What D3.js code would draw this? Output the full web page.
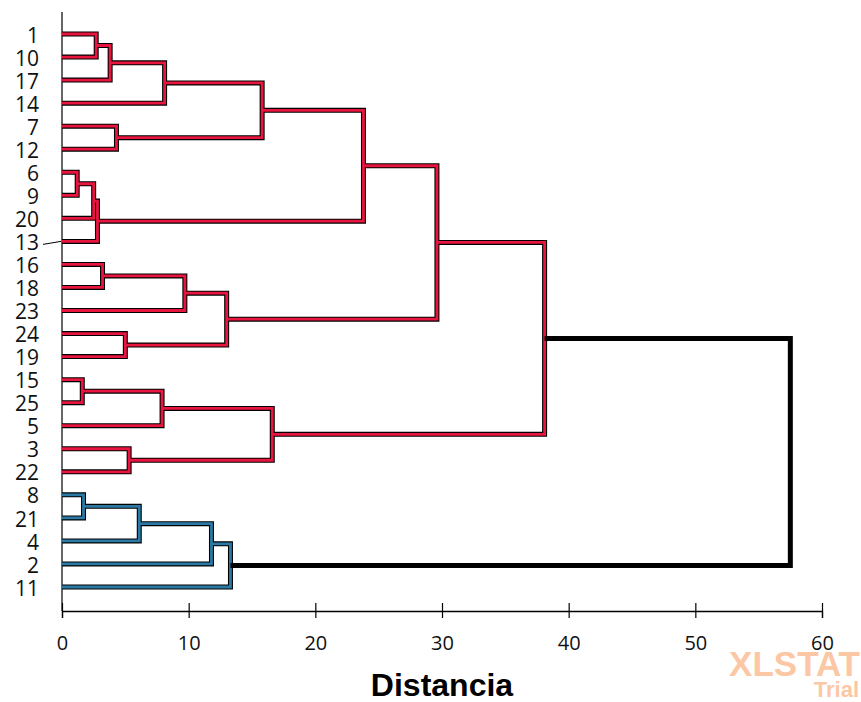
<!DOCTYPE html>
<html>
<head>
<meta charset="utf-8">
<script src="https://cdn.jsdelivr.net/npm/d3@7"></script>
<style>
  body { margin: 0; background: #fff; }
  svg text { font-family: "Open Sans", "DejaVu Sans", sans-serif; }
</style>
</head>
<body>
<svg id="chart" width="861" height="702"></svg>
<script>
// leaf order top to bottom
const leafOrder = ["1","10","17","14","7","12","6","9","20","13","16","18","23","24","19","15","25","5","3","22","8","21","4","2","11"];

// merges: [id, left child, right child, distance]
const merges = [
  ["m1", "1", "10", 2.7],
  ["m2", "m1", "17", 3.8],
  ["m3", "m2", "14", 8.1],
  ["m4", "7", "12", 4.3],
  ["m5", "m3", "m4", 15.8],
  ["m6", "6", "9", 1.2],
  ["m7", "m6", "20", 2.5],
  ["m8", "m7", "13", 2.8],
  ["m9", "m5", "m8", 23.8],
  ["m10", "16", "18", 3.2],
  ["m11", "m10", "23", 9.7],
  ["m12", "24", "19", 5.0],
  ["m13", "m11", "m12", 13.0],
  ["m14", "m9", "m13", 29.6],
  ["m15", "15", "25", 1.6],
  ["m16", "m15", "5", 7.9],
  ["m17", "3", "22", 5.3],
  ["m18", "m16", "m17", 16.6],
  ["m19", "m14", "m18", 38.1],
  ["m20", "8", "21", 1.7],
  ["m21", "m20", "4", 6.1],
  ["m22", "m21", "2", 11.8],
  ["m23", "m22", "11", 13.3],
  ["root", "m19", "m23", 57.5]
];

// cluster colours by top-level group
const groupRoots = ["m19", "m23"];
const groupColors = ["#e8153f", "#2b7aa5"];

const xTicks = [0, 10, 20, 30, 40, 50, 60];

const svg = d3.select("#chart");
const x = d3.scaleLinear().domain([0, 60]).range([62, 822]);
const y = d3.scalePoint().domain(leafOrder).range([34, 587]);

// node positions
const nodes = {};
leafOrder.forEach(l => { nodes[l] = {h: 0, y: y(l)}; });
merges.forEach(([id, a, b, h]) => {
  nodes[id] = {h: h, y: (nodes[a].y + nodes[b].y) / 2, a: a, b: b};
});

// colour assignment: walk down from each group root
const colorOf = {};
const paint = (id, c) => {
  colorOf[id] = c;
  if (nodes[id].a) { paint(nodes[id].a, c); paint(nodes[id].b, c); }
};
groupRoots.forEach((g, i) => paint(g, groupColors[i]));

const linkPath = (id) => {
  const n = nodes[id], A = nodes[n.a], B = nodes[n.b];
  return "M" + x(A.h) + "," + A.y + "H" + x(n.h) + "V" + B.y + "H" + x(B.h);
};

// left baseline
svg.append("line")
  .attr("x1", x(0)).attr("x2", x(0))
  .attr("y1", 12).attr("y2", 611)
  .attr("stroke", "#000").attr("stroke-width", 1.2);

const inner = merges.filter(m => m[0] !== "root").map(m => m[0]);

// black outline under each link
svg.append("g").selectAll("path")
  .data(inner)
  .join("path")
  .attr("d", linkPath)
  .attr("fill", "none")
  .attr("stroke", "#000")
  .attr("stroke-width", 5);

// coloured centre
svg.append("g").selectAll("path")
  .data(inner)
  .join("path")
  .attr("d", linkPath)
  .attr("fill", "none")
  .attr("stroke", d => colorOf[d])
  .attr("stroke-width", 2.8);

// root link, plain black
svg.append("path")
  .attr("d", linkPath("root"))
  .attr("fill", "none")
  .attr("stroke", "#000")
  .attr("stroke-width", 5);

// leaf labels
svg.append("g").selectAll("text")
  .data(leafOrder)
  .join("text")
  .attr("x", 39)
  .attr("y", d => y(d) + 3)
  .attr("text-anchor", "end")
  .attr("dominant-baseline", "middle")
  .attr("font-size", 21)
  .attr("fill", "#111")
  .text(d => d);

// small leader for 13
svg.append("line")
  .attr("x1", 43).attr("x2", 61)
  .attr("y1", y("13") + 3).attr("y2", y("13"))
  .attr("stroke", "#000").attr("stroke-width", 1);

// x axis
const axis = svg.append("g")
  .attr("transform", "translate(0,611)")
  .call(d3.axisBottom(x).tickValues(xTicks).tickSizeOuter(0).tickSize(7).tickPadding(18));
axis.select(".domain").attr("stroke-width", 1.3);
axis.selectAll(".tick line").attr("y1", -8).attr("y2", 7).attr("stroke-width", 1.2);
axis.selectAll(".tick text")
  .attr("font-size", 20)
  .attr("font-family", "Open Sans, sans-serif")
  .attr("fill", "#111");

svg.append("text")
  .attr("x", 442).attr("y", 696)
  .attr("text-anchor", "middle")
  .attr("font-size", 32)
  .attr("font-weight", "bold")
  .style("font-family", "Liberation Sans, Arial, sans-serif")
  .text("Distancia");

// watermark
svg.append("text")
  .attr("x", 860).attr("y", 676)
  .attr("text-anchor", "end")
  .attr("font-size", 35)
  .attr("font-weight", "bold")
  .attr("fill", "#fcc7a4")
  .style("font-family", "Liberation Sans, Arial, sans-serif")
  .text("XLSTAT");
svg.append("text")
  .attr("x", 859).attr("y", 697)
  .attr("text-anchor", "end")
  .attr("font-size", 22)
  .attr("font-weight", "bold")
  .attr("fill", "#fcc7a4")
  .style("font-family", "Liberation Sans, Arial, sans-serif")
  .text("Trial");
</script>
</body>
</html>
